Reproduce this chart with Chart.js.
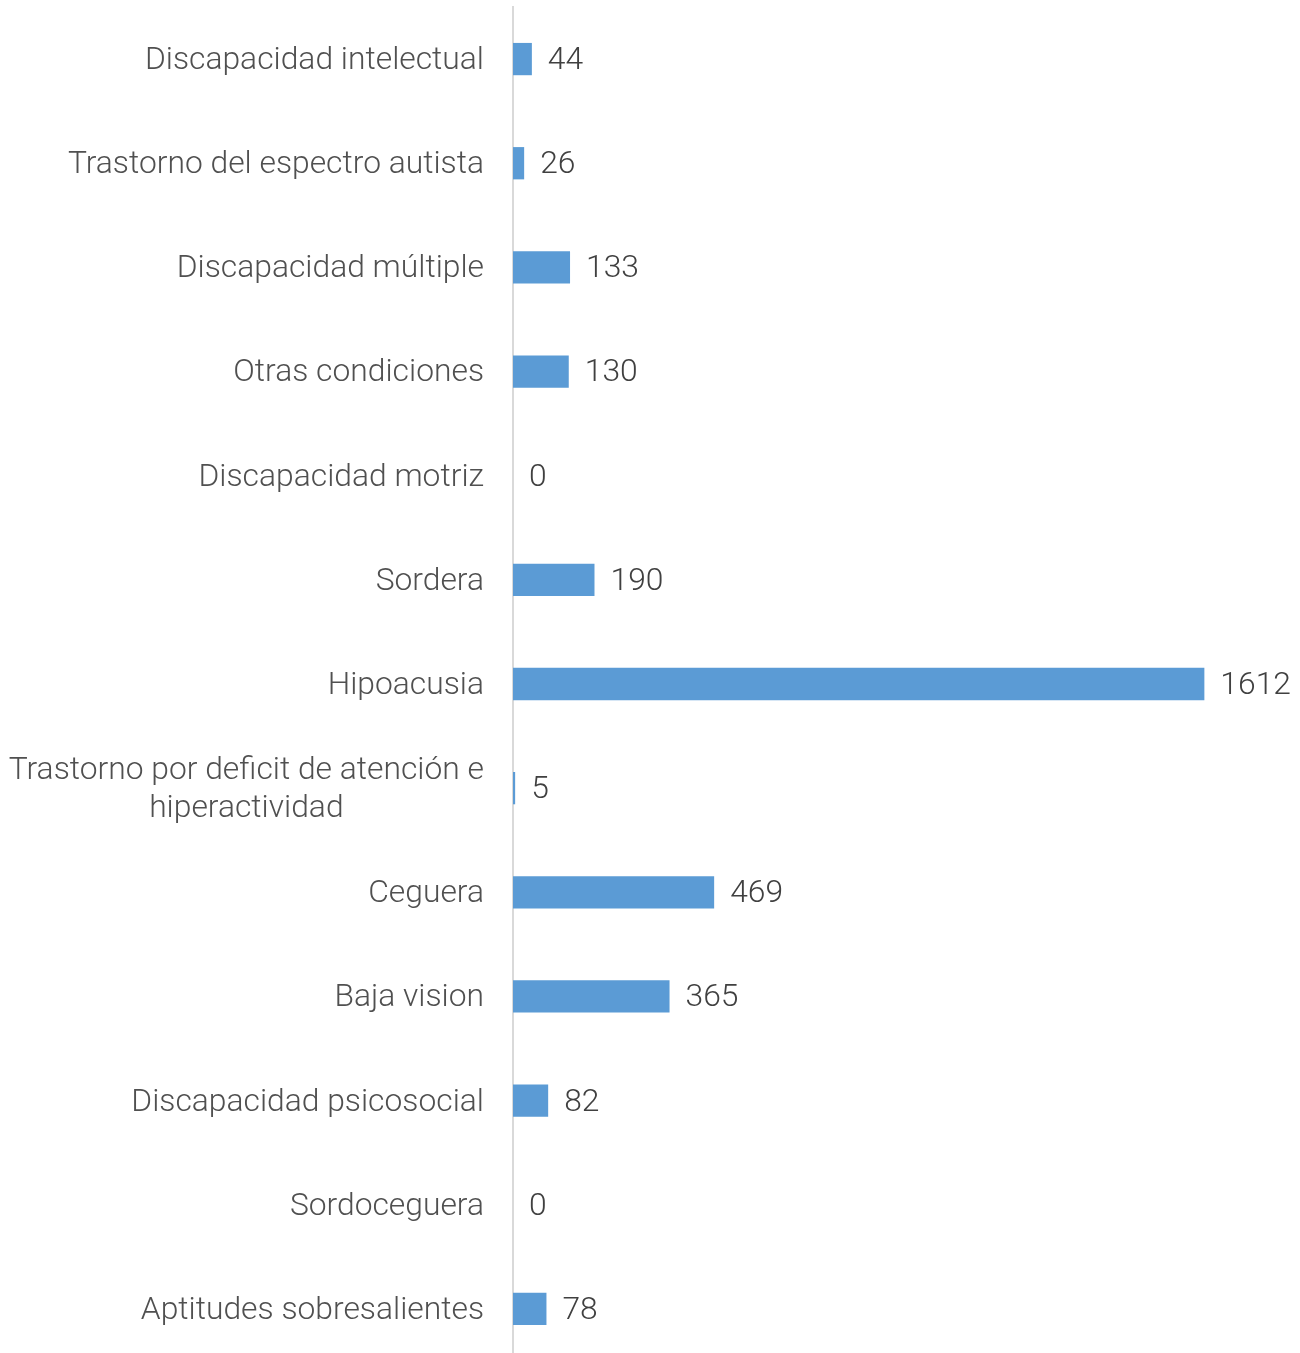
<!DOCTYPE html>
<html>
<head>
<meta charset="utf-8">
<script src="https://cdn.jsdelivr.net/npm/chart.js@4"></script>
<style>
  html, body { margin: 0; padding: 0; background: #fff; overflow: hidden; }
  #wrap { width: 1300px; height: 1361px; position: relative; }
</style>
</head>
<body>
<div id="wrap"><canvas id="mycanvas"></canvas></div>
<script>
// categories, top to bottom
var categorias = [
    'Discapacidad intelectual',
    'Trastorno del espectro autista',
    'Discapacidad múltiple',
    'Otras condiciones',
    'Discapacidad motriz',
    'Sordera',
    'Hipoacusia',
    ['Trastorno por deficit de atención e', 'hiperactividad'],
    'Ceguera',
    'Baja vision',
    'Discapacidad psicosocial',
    'Sordoceguera',
    'Aptitudes sobresalientes'
];
var alumnos = [44, 26, 133, 130, 0, 190, 1612, 5, 469, 365, 82, 0, 78];
var ejeMax = 1800;

var fuente = '300 31.8px Roboto, "Open Sans", sans-serif';

// category labels: block right aligned, lines centred inside it
var etiquetasY = {
    id: 'etiquetasY',
    afterDraw: function (chart) {
        var ctx = chart.ctx;
        var y = chart.scales.y;
        var derecha = chart.chartArea.left - 29;
        ctx.save();
        ctx.font = fuente;
        ctx.fillStyle = '#505050';
        ctx.textBaseline = 'middle';
        chart.data.labels.forEach(function (lab, i) {
            var yc = y.getPixelForTick(i) + 2;
            var lineas = Array.isArray(lab) ? lab : [lab];
            var ancho = 0;
            lineas.forEach(function (l) { ancho = Math.max(ancho, ctx.measureText(l).width); });
            var centro = derecha - ancho / 2;
            var alto = 38;
            var y0 = yc - (lineas.length - 1) * alto / 2;
            ctx.textAlign = 'center';
            lineas.forEach(function (l, k) {
                ctx.fillText(l, centro, y0 + k * alto);
            });
        });
        ctx.restore();
    }
};

// value labels at the end of each bar
var etiquetasValor = {
    id: 'etiquetasValor',
    afterDatasetsDraw: function (chart) {
        var ctx = chart.ctx;
        var meta = chart.getDatasetMeta(0);
        ctx.save();
        ctx.font = fuente;
        ctx.fillStyle = '#404040';
        ctx.textAlign = 'left';
        ctx.textBaseline = 'middle';
        meta.data.forEach(function (bar, i) {
            ctx.fillText(String(chart.data.datasets[0].data[i]), bar.x + 16, bar.y + 2);
        });
        ctx.restore();
    }
};

var ctx = document.getElementById('mycanvas');

var barGraph = new Chart(ctx, {
    type: 'bar',
    data: {
        labels: categorias,
        datasets: [{
            label: 'Alumnos',
            backgroundColor: '#5b9bd5',
            borderWidth: 0,
            data: alumnos,
            barPercentage: 0.62,
            categoryPercentage: 0.5
        }]
    },
    options: {
        indexAxis: 'y',
        responsive: true,
        maintainAspectRatio: false,
        animation: false,
        layout: { padding: { top: 7, bottom: 0, right: 15, left: 0 } },
        plugins: {
            legend: { display: false },
            tooltip: { enabled: false }
        },
        scales: {
            x: {
                display: false,
                min: 0,
                max: ejeMax
            },
            y: {
                grid: { display: false, drawTicks: false },
                border: { display: true, color: '#d9d9d9', width: 2 },
                ticks: { display: false },
                afterFit: function (scale) { scale.width = 513; }
            }
        }
    },
    plugins: [etiquetasY, etiquetasValor]
});
</script>
</body>
</html>
